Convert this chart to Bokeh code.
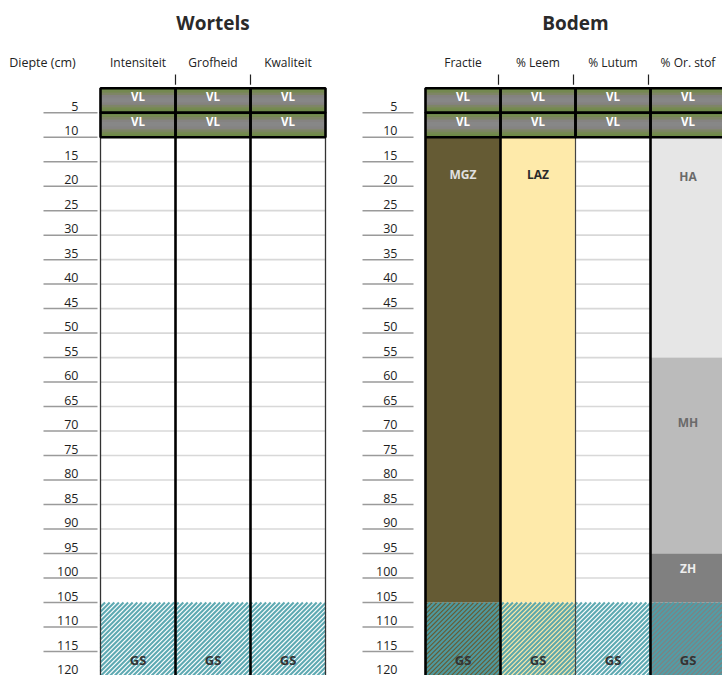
from bokeh.plotting import figure
from bokeh.models import Range1d
from bokeh.core.properties import value
from bokeh.embed import file_html
from bokeh.resources import INLINE

# ---------------- data ----------------
wortels_title = "Wortels"
bodem_title = "Bodem"
depth_label = "Diepte (cm)"
wortels_columns = ["Intensiteit", "Grofheid", "Kwaliteit"]
bodem_columns = ["Fractie", "% Leem", "% Lutum", "% Or. stof"]
depth_ticks = [5, 10, 15, 20, 25, 30, 35, 40, 45, 50, 55, 60,
               65, 70, 75, 80, 85, 90, 95, 100, 105, 110, 115, 120]
vl_top = [0, 5]
vl_bottom = [5, 10]
vl_label = ["VL", "VL"]
body_top = 10
gs_top = 105
gs_bottom = 120
gs_label = "GS"
gs_label_depth = 116.8
layer_column = ["Fractie", "% Leem", "% Or. stof", "% Or. stof", "% Or. stof"]
layer_top = [10, 10, 10, 55, 95]
layer_bottom = [105, 105, 55, 95, 105]
layer_label = ["MGZ", "LAZ", "HA", "MH", "ZH"]
layer_label_depth = [17.7, 17.7, 18.0, 68.2, 98.0]
white_columns = ["Intensiteit", "Grofheid", "Kwaliteit", "% Lutum"]

# ---------------- layout / style ----------------
FONT = value("Open Sans")
COL_W = 75
LEFT_X0 = 100
RIGHT_X0 = 425
layer_fill = {"MGZ": "#655b34", "LAZ": "#feeaaa", "HA": "#e6e6e6", "MH": "#bbbbbb", "ZH": "#808080"}
layer_text = {"MGZ": "#e0e0e0", "LAZ": "#2a2a2a", "HA": "#6a6a6a", "MH": "#6a6a6a", "ZH": "#eeeeee"}
gs_base = {"Intensiteit": "#ffffff", "Grofheid": "#ffffff", "Kwaliteit": "#ffffff",
           "Fractie": "#655b34", "% Leem": "#feeaaa", "% Lutum": "#ffffff", "% Or. stof": "#808080"}
vl_gradient = ["#6d8a47", "#758951", "#7e8566", "#858381", "#878787",
               "#878787", "#858381", "#7e8566", "#758951", "#6d8a47"]

col_x0 = {}
for i, c in enumerate(wortels_columns):
    col_x0[c] = LEFT_X0 + i * COL_W
for i, c in enumerate(bodem_columns):
    col_x0[c] = RIGHT_X0 + i * COL_W
all_columns = wortels_columns + bodem_columns

# picture pixel <-> depth mapping: y_pix = Y0 + K * depth
W, H = 722, 675
Y0, K = 87.7, 4.898
y_top = (0 - Y0) / K
y_bot = (H - Y0) / K

p = figure(width=W, height=H, x_range=Range1d(0, W), y_range=Range1d(y_bot, y_top),
           output_backend="svg", toolbar_location=None, min_border=0)
p.axis.visible = False
p.grid.visible = False
p.outline_line_color = None
p.background_fill_color = "white"
p.border_fill_color = "white"

# white body cells
p.quad(left=[col_x0[c] for c in white_columns], right=[col_x0[c] + COL_W for c in white_columns],
       top=[body_top] * len(white_columns), bottom=[gs_top] * len(white_columns),
       fill_color="white", line_color=None)

# grid lines inside white cells
gx0, gx1, gy = [], [], []
for c in white_columns:
    for d in depth_ticks:
        if body_top < d < gs_top:
            gx0.append(col_x0[c]); gx1.append(col_x0[c] + COL_W); gy.append(d)
p.segment(x0=gx0, x1=gx1, y0=gy, y1=gy, line_color="#d8d8d8", line_width=1.6)

# coloured soil layers
p.quad(left=[col_x0[c] for c in layer_column], right=[col_x0[c] + COL_W for c in layer_column],
       top=layer_top, bottom=layer_bottom,
       fill_color=[layer_fill[l] for l in layer_label], line_color=None)

# GS zone: base colour of each column + diagonal teal stripes
p.quad(left=[col_x0[c] for c in all_columns], right=[col_x0[c] + COL_W for c in all_columns],
       top=[gs_top] * len(all_columns), bottom=[y_bot] * len(all_columns),
       fill_color=[gs_base[c] for c in all_columns], line_color=None)

STRIPE_STEP = 4.6
hx0, hx1, hy0, hy1 = [], [], [], []
yt_pix = Y0 + K * gs_top
yb_pix = float(H)
for xl, xr in [(LEFT_X0, LEFT_X0 + 3 * COL_W), (RIGHT_X0, W)]:
    c = xl + yt_pix
    while c <= xr + yb_pix:
        ya = max(yt_pix, c - xr)
        yb = min(yb_pix, c - xl)
        if yb > ya:
            hx0.append(c - ya); hy0.append((ya - Y0) / K)
            hx1.append(c - yb); hy1.append((yb - Y0) / K)
        c += STRIPE_STEP
p.segment(x0=hx0, x1=hx1, y0=hy0, y1=hy1, line_color="#4da0aa", line_width=2.1, line_alpha=0.9)

# column dividers
div_x = [LEFT_X0, LEFT_X0 + COL_W, LEFT_X0 + 2 * COL_W, LEFT_X0 + 3 * COL_W,
         RIGHT_X0, RIGHT_X0 + COL_W, RIGHT_X0 + 2 * COL_W, RIGHT_X0 + 3 * COL_W]
div_w = [1.3, 2.6, 2.6, 1.3, 2.6, 2.6, 1.2, 2.6]
div_c = ["#333333", "black", "black", "#333333", "black", "black", "#444444", "black"]
p.segment(x0=div_x, x1=div_x, y0=[body_top] * 8, y1=[y_bot] * 8,
          line_color=div_c, line_width=div_w)

# VL rows with vertical gradient bands
n = len(vl_gradient)
for t, b in zip(vl_top, vl_bottom):
    h = (b - t) / n
    for x0, ncol in [(LEFT_X0, 3), (RIGHT_X0, 4)]:
        p.quad(left=[x0] * n, right=[x0 + ncol * COL_W] * n,
               top=[t + k * h for k in range(n)], bottom=[t + (k + 1) * h for k in range(n)],
               fill_color=vl_gradient, line_color=vl_gradient, line_width=1)
cl, cr, ct, cb = [], [], [], []
for t, b in zip(vl_top, vl_bottom):
    for c in all_columns:
        cl.append(col_x0[c]); cr.append(col_x0[c] + COL_W); ct.append(t); cb.append(b)
p.quad(left=cl, right=cr, top=ct, bottom=cb, fill_color=None, line_color="black", line_width=2.6)

# VL labels
vx, vy, vt = [], [], []
for t, b, lab in zip(vl_top, vl_bottom, vl_label):
    for c in all_columns:
        vx.append(col_x0[c] + COL_W / 2); vy.append((t + b) / 2 - 0.75); vt.append(lab)
p.text(x=vx, y=vy, text=vt, text_font=FONT, text_font_style="bold", text_font_size="11.5px",
       text_color="white", text_align="center", text_baseline="middle")

# layer labels
p.text(x=[col_x0[c] + COL_W / 2 for c in layer_column], y=layer_label_depth, text=layer_label,
       text_font=FONT, text_font_style="bold", text_font_size="12px",
       text_color=[layer_text[l] for l in layer_label], text_align="center", text_baseline="middle")

# GS labels
p.text(x=[col_x0[c] + COL_W / 2 for c in all_columns], y=[gs_label_depth] * len(all_columns),
       text=[gs_label] * len(all_columns), text_font=FONT, text_font_style="bold",
       text_font_size="13px", text_color="#333333", text_align="center", text_baseline="middle")

# depth scales (left of each panel)
for label_x, lx0, lx1 in [(78, 43, 97), (397, 362, 413)]:
    p.segment(x0=[lx0] * len(depth_ticks), x1=[lx1] * len(depth_ticks), y0=depth_ticks, y1=depth_ticks,
              line_color="#9a9a9a", line_width=1.5)
    p.text(x=[label_x] * len(depth_ticks), y=[d - 0.35 for d in depth_ticks],
           text=[str(d) for d in depth_ticks], text_font=FONT, text_font_size="12.5px",
           text_color="#1e1e1e", text_align="right", text_baseline="bottom")

# column headers
p.text(x=[col_x0[c] + COL_W / 2 for c in all_columns], y=[-5.2] * len(all_columns), text=all_columns,
       text_font=FONT, text_font_size="12px", text_color="#222222", text_align="center",
       text_baseline="alphabetic")
p.text(x=[42], y=[-5.2], text=[depth_label], text_font=FONT, text_font_size="12.5px",
       text_color="#222222", text_align="center", text_baseline="alphabetic")

# small tick marks above the headers
tk_x = [LEFT_X0 + COL_W, LEFT_X0 + 2 * COL_W, RIGHT_X0 + COL_W - 2, RIGHT_X0 + 2 * COL_W - 2, RIGHT_X0 + 3 * COL_W - 2]
p.segment(x0=tk_x, x1=tk_x, y0=[-2.8] * 5, y1=[-0.7] * 5, line_color="#222222", line_width=1.2)

# titles
p.text(x=[LEFT_X0 + 1.5 * COL_W, RIGHT_X0 + 2 * COL_W], y=[-13.4, -13.4], text=[wortels_title, bodem_title],
       text_font=FONT, text_font_style="bold", text_font_size="19px", text_color="#2a2a2a",
       text_align="center", text_baseline="alphabetic")

open("out.html", "w").write(file_html(p, INLINE))
